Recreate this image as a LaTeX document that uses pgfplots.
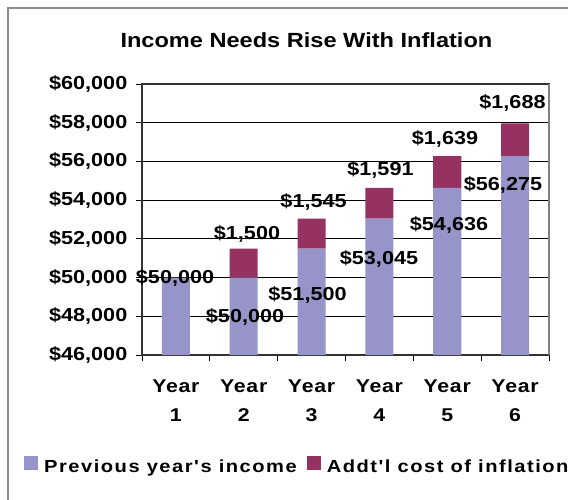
\documentclass[border=0pt]{standalone}
\usepackage{fontspec}
\setmainfont{Liberation Sans}[FakeStretch=1.15, Ligatures=TeXOff]
\usepackage{pgfplots}
\usepackage{pgfplotstable}
\pgfplotsset{compat=1.18}
\definecolor{incomecol}{RGB}{150,148,201}
\definecolor{inflcol}{RGB}{150,50,98}

\pgfplotstableread{
x prev add
1 50000 0
2 50000 1500
3 51500 1545
4 53045 1591
5 54636 1639
6 56275 1688
}\bardata

\pgfplotstableread{
x y v
0.987 50004 50000
2.019 47989 50000
2.940 49100 51500
3.994 50985 53045
5.026 52716 54636
5.822 54782 56275
2.048 52251 1500
3.029 53904 1545
4.016 55583 1591
4.967 57184 1639
5.962 59018 1688
}\labeldata

\begin{document}
\begin{tikzpicture}
\path[use as bounding box] (0pt,0pt) rectangle (568pt,-500pt);
\draw[black!45, line width=2pt] (7.7pt,-501pt) -- (7.7pt,-7.7pt) -- (569pt,-7.7pt);

\begin{axis}[
  at={(142pt,-355pt)}, anchor=south west,
  scale only axis, width=407pt, height=271pt,
  ybar stacked, bar width=28pt,
  xmin=0.5, xmax=6.5, ymin=46000, ymax=60000,
  scaled y ticks=false,
  ytick={46000,48000,...,60000},
  yticklabels={{\$46,000},{\$48,000},{\$50,000},{\$52,000},{\$54,000},{\$56,000},{\$58,000},{\$60,000}},
  ymajorgrids, grid style={black, line width=0.8pt},
  xtick={0.5,1.5,...,6.5}, xticklabels={},
  extra x ticks={1,2,3,4,5,6},
  extra x tick labels={{Year\\1},{Year\\2},{Year\\3},{Year\\4},{Year\\5},{Year\\6}},
  extra x tick style={major tick length=0pt, grid=none},
  xtick pos=bottom, ytick pos=left, tick align=outside,
  major tick length=5.5pt,
  tick style={black, line width=0.8pt},
  axis line style={black!80, line width=1.2pt},
  yticklabel style={anchor=east, inner sep=0pt, xshift=-9pt, font=\fontsize{18.8}{22}\selectfont\bfseries},
  xticklabel style={anchor=north, align=center, inner sep=0pt, yshift=-25pt, font=\fontsize{18.5}{29}\selectfont\bfseries\addfontfeature{LetterSpace=4}},
  title={Income Needs Rise With Inflation},
  title style={at={(0.404,1)}, anchor=base, yshift=30.4pt, inner sep=0pt, font=\fontsize{20.5}{24}\selectfont\bfseries},
  legend columns=2,
  legend style={at={(-0.29,-0.406)}, anchor=west, draw=none, fill=none, inner sep=0pt,
    font=\fontsize{17.5}{20}\selectfont\bfseries\addfontfeature{LetterSpace=8.6},
    nodes={inner sep=0pt},
    /tikz/every even column/.append style={column sep=10pt}},
  legend image code/.code={\fill[#1] (0pt,-2.5pt) rectangle (14pt,11.5pt); \path (20pt,0pt);},
  after end axis/.code={\draw[black!50, line width=1.2pt] (rel axis cs:1,0) -- (rel axis cs:1,1);},
]
\addplot[fill=incomecol, draw=none] table[x=x, y=prev] {\bardata};
\addlegendentry{Previous year's income}
\addplot[fill=inflcol, draw=none] table[x=x, y=add] {\bardata};
\addlegendentry{Addt'l cost of inflation}
\end{axis}

\begin{axis}[
  at={(142pt,-355pt)}, anchor=south west,
  scale only axis, width=407pt, height=271pt,
  xmin=0.5, xmax=6.5, ymin=46000, ymax=60000,
  hide axis, clip=false,
]
\addplot[draw=none, mark=none, point meta=explicit,
  nodes near coords={\$\pgfmathprintnumber[fixed, precision=0, 1000 sep={,}, assume math mode=true]{\pgfplotspointmeta}},
  nodes near coords style={anchor=center, inner sep=0pt, font=\fontsize{18.8}{22}\selectfont\bfseries}]
  table[x=x, y=y, meta=v] {\labeldata};
\end{axis}
\end{tikzpicture}
\end{document}
